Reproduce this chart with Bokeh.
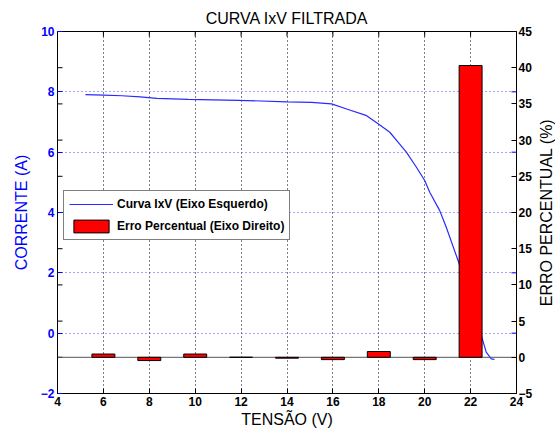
from bokeh.plotting import figure
from bokeh.layouts import row
from bokeh.models import Range1d, LinearAxis, FixedTicker, Legend, LegendItem, ColumnDataSource, Title
from bokeh.embed import file_html
from bokeh.resources import INLINE

# ---- data ----
tensao = [5.22, 6.0, 6.81, 7.6, 8.33, 9.7, 11.87, 13.99, 15.07, 15.94, 16.6, 17.47, 17.97,
          18.48, 18.91, 19.2, 19.64, 20.0, 20.22, 20.65, 20.94, 21.48, 22.0, 22.53, 22.68, 22.9, 23.04]
corrente = [7.91, 7.89, 7.87, 7.83, 7.78, 7.75, 7.72, 7.67, 7.65, 7.6, 7.43, 7.21, 6.94,
            6.66, 6.27, 6.0, 5.5, 5.06, 4.67, 4.07, 3.51, 2.35, 1.1, -0.24, -0.63, -0.85, -0.87]
bar_x = [6, 8, 10, 12, 14, 16, 18, 20, 22]
erro = [0.45, -0.45, 0.45, 0.0, -0.12, -0.32, 0.8, -0.32, 40.3]
x_ticks = [4, 6, 8, 10, 12, 14, 16, 18, 20, 22, 24]
left_ticks = [-2, 0, 2, 4, 6, 8, 10]
right_ticks = [-5, 0, 5, 10, 15, 20, 25, 30, 35, 40, 45]

FONT = "Liberation Sans"
X0, X1 = 4, 24
YL0, YL1 = -2, 10
YR0, YR1 = -5, 45

p = figure(width=535, height=436, output_backend="svg", toolbar_location=None,
           x_range=Range1d(X0, X1), y_range=Range1d(YL0, YL1),
           min_border_left=57, min_border_right=18, min_border_top=31, min_border_bottom=43,
           background_fill_color="white", border_fill_color="white")
p.extra_y_ranges = {"right": Range1d(YR0, YR1)}

p.title.text = "CURVA IxV FILTRADA"
p.title.align = "center"
p.title.text_font = FONT
p.title.text_font_size = "16px"
p.title.text_font_style = "normal"
p.title.text_color = "black"

p.outline_line_color = "black"
p.outline_line_width = 1

# grids
p.xgrid.ticker = FixedTicker(ticks=x_ticks)
p.xgrid.grid_line_color = "black"
p.xgrid.grid_line_dash = "1 3"
p.xgrid.grid_line_width = 1
p.ygrid.ticker = FixedTicker(ticks=left_ticks)
p.ygrid.grid_line_color = "#4a4aff"
p.ygrid.grid_line_dash = "1 3"
p.ygrid.grid_line_width = 1

# x axis
xa = p.xaxis[0]
xa.ticker = FixedTicker(ticks=x_ticks)
xa.axis_label = "TENSÃO (V)"
xa.axis_label_text_font = FONT
xa.axis_label_text_font_size = "16px"
xa.axis_label_text_font_style = "normal"
xa.axis_label_text_color = "black"
xa.axis_label_standoff = 2
xa.major_label_text_font = FONT
xa.major_label_text_font_size = "12px"
xa.major_label_text_font_style = "bold"
xa.major_label_text_color = "black"
xa.major_label_standoff = 3
xa.major_tick_in = 5
xa.major_tick_out = 0
xa.minor_tick_line_color = None
xa.axis_line_color = "black"
xa.major_tick_line_color = "black"

# left axis
ya = p.yaxis[0]
ya.ticker = FixedTicker(ticks=left_ticks)
ya.axis_label = "CORRENTE (A)"
ya.axis_label_text_font = FONT
ya.axis_label_text_font_size = "16px"
ya.axis_label_text_font_style = "normal"
ya.axis_label_text_color = "blue"
ya.axis_label_standoff = 8
ya.major_label_text_font = FONT
ya.major_label_text_font_size = "12px"
ya.major_label_text_font_style = "bold"
ya.major_label_text_color = "blue"
ya.major_label_standoff = 3
ya.major_tick_in = 5
ya.major_tick_out = 0
ya.major_tick_line_color = "blue"
ya.minor_tick_line_color = None
ya.axis_line_color = "black"

# right axis (tick labels only; its title is placed in the narrow strip beside)
ra = LinearAxis(y_range_name="right", ticker=FixedTicker(ticks=right_ticks))
ra.major_label_text_font = FONT
ra.major_label_text_font_size = "12px"
ra.major_label_text_font_style = "bold"
ra.major_label_text_color = "black"
ra.major_label_standoff = 2
ra.major_tick_in = 5
ra.major_tick_out = 0
ra.major_tick_line_color = "black"
ra.minor_tick_line_color = None
ra.axis_line_color = "black"
p.add_layout(ra, "right")

# mirrored ticks (MATLAB box style)
tx = 5 / 460 * (X1 - X0)
ty = 5 / 362 * (YL1 - YL0)
p.segment(x0=[X0] * len(right_ticks), x1=[X0 + tx] * len(right_ticks),
          y0=right_ticks, y1=right_ticks, y_range_name="right", line_color="black", line_width=1)
p.segment(x0=[X1 - tx] * len(left_ticks), x1=[X1] * len(left_ticks),
          y0=left_ticks, y1=left_ticks, line_color="blue", line_width=1)
p.segment(x0=x_ticks, x1=x_ticks, y0=[YL1] * len(x_ticks), y1=[YL1 - ty] * len(x_ticks),
          line_color="black", line_width=1)

# curve (left axis)
line_r = p.line(tensao, corrente, line_color="#2a2aff", line_width=1.2)

# zero line on right axis
p.segment(x0=[X0], x1=[X1], y0=[0], y1=[0], y_range_name="right", line_color="#555555", line_width=1)

# bars (right axis)
bar_src = ColumnDataSource(dict(x=bar_x, top=erro, bottom=[0] * len(erro)))
bar_r = p.vbar(x="x", top="top", bottom="bottom", width=1.0, source=bar_src,
               y_range_name="right", fill_color="red", line_color="black", line_width=1)

legend = Legend(items=[LegendItem(label="Curva IxV (Eixo Esquerdo)", renderers=[line_r]),
                       LegendItem(label="Erro Percentual (Eixo Direito)", renderers=[bar_r])],
                location=(6, 153))
legend.label_text_font = FONT
legend.label_text_font_size = "12px"
legend.label_text_font_style = "bold"
legend.label_text_color = "black"
legend.border_line_color = "black"
legend.border_line_width = 1
legend.background_fill_color = "white"
legend.background_fill_alpha = 1
legend.glyph_width = 44
legend.glyph_height = 16
legend.spacing = 6
legend.padding = 5
legend.margin = 0
legend.label_standoff = 4
legend.label_height = 16
p.add_layout(legend, "center")

# narrow strip holding the right-axis title (reads bottom-to-top)
p2 = figure(width=20, height=436, output_backend="svg", toolbar_location=None,
            title_location=None, x_axis_location=None, y_axis_location=None,
            min_border_left=0, min_border_right=0, min_border_top=31, min_border_bottom=43,
            background_fill_color="white", border_fill_color="white")
p2.outline_line_color = None
p2.grid.visible = False
p2.add_layout(Title(text="ERRO PERCENTUAL (%)", align="center", text_font=FONT,
                    text_font_size="16px", text_font_style="normal", text_color="black",
                    standoff=0, offset=0), "left")

layout = row(p, p2, spacing=0)
open("out.html", "w").write(file_html(layout, INLINE))
